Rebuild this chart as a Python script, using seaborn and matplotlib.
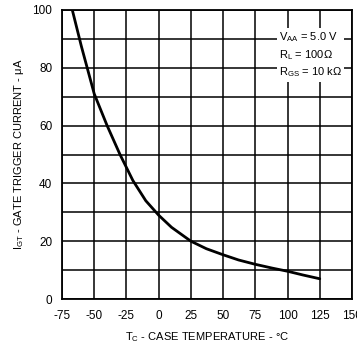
import matplotlib
matplotlib.use("Agg")
import matplotlib.pyplot as plt
from matplotlib import font_manager
import seaborn as sns
import pandas as pd

# Gate trigger current versus case temperature
case_temp_c = [-67, -60, -50, -40, -30, -20, -10, 0, 10, 25, 37, 50, 62, 75, 88, 100, 112, 125]
gate_current_ua = [100, 87.5, 71, 60, 50, 41, 34, 29, 24.8, 20, 17.4, 15.3, 13.5, 12, 10.7, 9.6, 8.3, 7]

x_ticks = [-75, -50, -25, 0, 25, 50, 75, 100, 125, 150]
y_ticks = [0, 20, 40, 60, 80, 100]
conditions = [r"$\mathregular{V_{AA}}$ = 5.0 V",
              r"$\mathregular{R_L}$ = 100Ω",
              r"$\mathregular{R_{GS}}$ = 10 kΩ"]

sns.set_theme(style="white")

installed = {f.name for f in font_manager.fontManager.ttflist}
candidates = ["Liberation Sans Narrow", "DejaVu Sans Condensed", "Liberation Sans", "DejaVu Sans"]
narrow = next(c for c in candidates if c in installed or c == "DejaVu Sans")
plt.rcParams["font.family"] = [narrow, "DejaVu Sans"]
plt.rcParams["mathtext.fontset"] = "custom"
plt.rcParams["mathtext.rm"] = narrow
plt.rcParams["mathtext.it"] = narrow

df = pd.DataFrame({"T": case_temp_c, "I": gate_current_ua})

fig = plt.figure(figsize=(3.57, 3.5), dpi=100)
ax = fig.add_axes([62 / 357, 1 - 299 / 350, 290 / 357, 289 / 350])

sns.lineplot(data=df, x="T", y="I", ax=ax, color="black", linewidth=2.0,
             sort=False, zorder=3)
ax.lines[-1].set_solid_joinstyle("round")

ax.set_xlim(-75, 150)
ax.set_ylim(0, 100)
ax.set_xticks(x_ticks)
ax.set_xticklabels([str(t) for t in x_ticks])
ax.set_yticks(y_ticks)
ax.set_yticklabels([str(t) for t in y_ticks])
ax.set_yticks(range(10, 100, 20), minor=True)
ax.grid(True, which="both", color="black", linewidth=1.1)
ax.tick_params(axis="both", which="both", length=0, labelsize=8.5, colors="black")
ax.tick_params(axis="x", pad=8)
ax.tick_params(axis="y", pad=7)
for s in ax.spines.values():
    s.set_color("black")
    s.set_linewidth(1.3)

ax.set_xlabel(r"$\mathregular{T_C}$ - CASE TEMPERATURE - °C", fontsize=8, color="black")
ax.set_ylabel(r"$\mathregular{I_{GT}}$ - GATE TRIGGER CURRENT - μA", fontsize=8, color="black")
ax.xaxis.set_label_coords(0.5, -0.108)
ax.yaxis.set_label_coords(-0.125, 0.5)

# test conditions block, white backing breaks the grid behind it
ax.text((279 - 62) / 290, (299 - 30) / 289, "\n".join(conditions), transform=ax.transAxes,
        ha="left", va="top", fontsize=8, color="black", linespacing=1.4, zorder=4,
        bbox=dict(facecolor="white", edgecolor="none", pad=1.5))

fig.savefig("out.png", dpi=100, facecolor="white")
